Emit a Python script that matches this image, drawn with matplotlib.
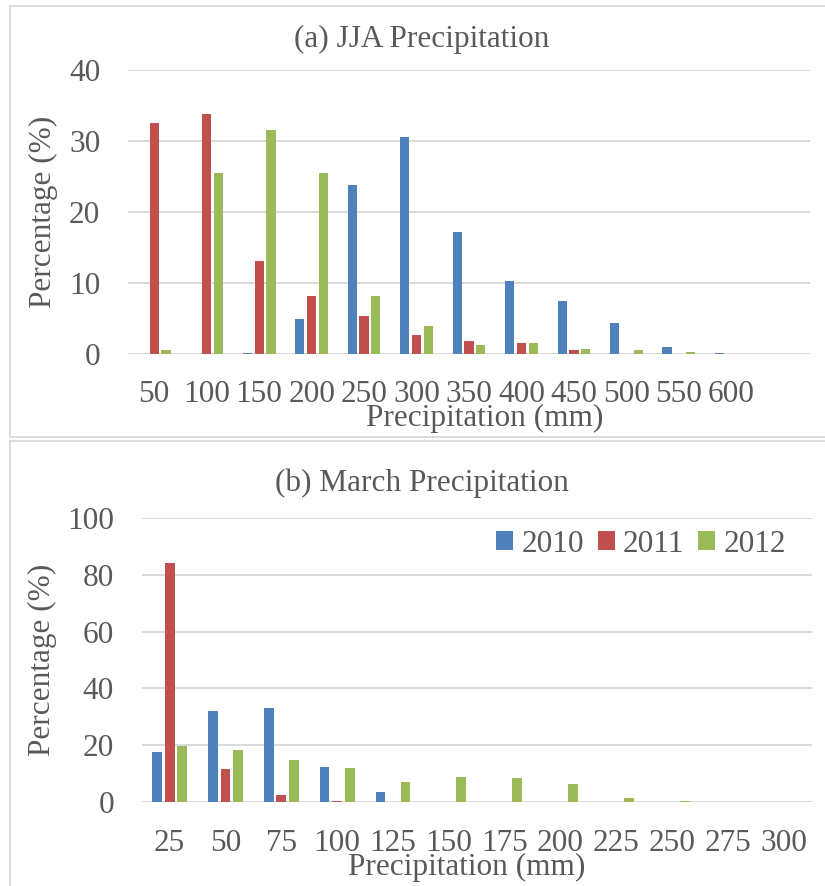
import matplotlib
matplotlib.use("Agg")
import matplotlib.pyplot as plt
import numpy as np
from matplotlib.patches import Rectangle

# ---- data -------------------------------------------------------------
years = ["2010", "2011", "2012"]

jja_bins = ["50", "100", "150", "200", "250", "300", "350", "400",
            "450", "500", "550", "600"]
jja_2010 = [0.0, 0.0, 0.2, 4.9, 23.8, 30.6, 17.2, 10.3, 7.5, 4.3, 1.0, 0.2]
jja_2011 = [32.6, 33.8, 13.1, 8.1, 5.4, 2.7, 1.8, 1.5, 0.5, 0.0, 0.0, 0.0]
jja_2012 = [0.6, 25.5, 31.5, 25.5, 8.2, 4.0, 1.2, 1.5, 0.75, 0.55, 0.35, 0.0]

mar_bins = ["25", "50", "75", "100", "125", "150", "175", "200",
            "225", "250", "275", "300"]
mar_2010 = [17.7, 32.1, 33.1, 12.4, 3.7, 0.0, 0.0, 0.0, 0.0, 0.0, 0.0, 0.0]
mar_2011 = [84.2, 11.7, 2.6, 0.5, 0.1, 0.0, 0.0, 0.0, 0.0, 0.0, 0.0, 0.0]
mar_2012 = [19.9, 18.3, 15.0, 12.1, 7.1, 8.8, 8.4, 6.3, 1.4, 0.5, 0.2, 0.0]

# ---- style --------------------------------------------------------------
plt.rcParams["font.family"] = ["Liberation Serif", "DejaVu Serif"]
colors = ["#4F81BD", "#C0504D", "#9BBB59"]
text_c = "#595959"
grid_c = "#D9D9D9"
fs = 22.5

W, H = 825, 886
fig = plt.figure(figsize=(W / 100, H / 100), dpi=100)


def fx(px):
    return px / W


def fy(py):
    return 1 - py / H


# chart frames
for top, bot in [(6, 437), (441, 900)]:
    fig.patches.append(Rectangle((fx(10), fy(bot)), fx(840) - fx(10),
                                 fy(top) - fy(bot), transform=fig.transFigure,
                                 fill=False, edgecolor=grid_c, linewidth=1.3))


def panel(rect, bins, series, ymax, ystep, extra_slots, title, title_y,
          xlabel_x, xlabel_y, ylabel_x):
    ax = fig.add_axes(rect)
    x = np.arange(len(bins))
    width = 0.175
    offs = [-0.225, 0.0, 0.225]
    for vals, c, o, yr in zip(series, colors, offs, years):
        ax.bar(x + o, vals, width, color=c, label=yr, zorder=3)
    ax.set_xlim(-0.5, len(bins) - 0.5 + extra_slots)
    ax.set_ylim(0, ymax)
    ax.set_yticks(np.arange(0, ymax + 0.1, ystep))
    ax.set_xticks(x)
    ax.set_xticklabels(bins)
    ax.yaxis.grid(True, color=grid_c, linewidth=1.4, zorder=0)
    ax.set_axisbelow(True)
    for s in ax.spines.values():
        s.set_visible(False)
    ax.tick_params(axis="both", length=0, labelsize=fs, labelcolor=text_c)
    ax.tick_params(axis="y", pad=20)
    ax.tick_params(axis="x", pad=19)
    fig.text(fx(422), fy(title_y), title, ha="center", va="baseline",
             fontsize=fs, color=text_c)
    fig.text(fx(xlabel_x), fy(xlabel_y), "Precipitation (mm)", ha="center",
             va="baseline", fontsize=fs, color=text_c)
    ax_mid = (rect[1] + rect[3] / 2)
    fig.text(fx(ylabel_x), ax_mid, "Percentage (%)", ha="center",
             va="center", rotation=90, fontsize=fs, color=text_c)
    return ax


ax1 = panel([fx(128), fy(354), fx(810) - fx(128), fy(70) - fy(354)],
            jja_bins, [jja_2010, jja_2011, jja_2012], 40, 10, 1,
            "(a) JJA Precipitation", 47, 485, 426, 43)

ax2 = panel([fx(141.7), fy(802.3), fx(811.7) - fx(141.7), fy(517.7) - fy(802.3)],
            mar_bins, [mar_2010, mar_2011, mar_2012], 100, 20, 0,
            "(b) March Precipitation", 491, 467, 875, 42)

ax2.legend(loc="center", bbox_to_anchor=(fx(641), fy(544)),
           bbox_transform=fig.transFigure, ncol=3, frameon=False,
           fontsize=fs, labelcolor=text_c, handlelength=0.55,
           handleheight=0.55, handletextpad=0.25, columnspacing=0.45,
           borderpad=0, borderaxespad=0)

fig.savefig("out.png", dpi=100)
